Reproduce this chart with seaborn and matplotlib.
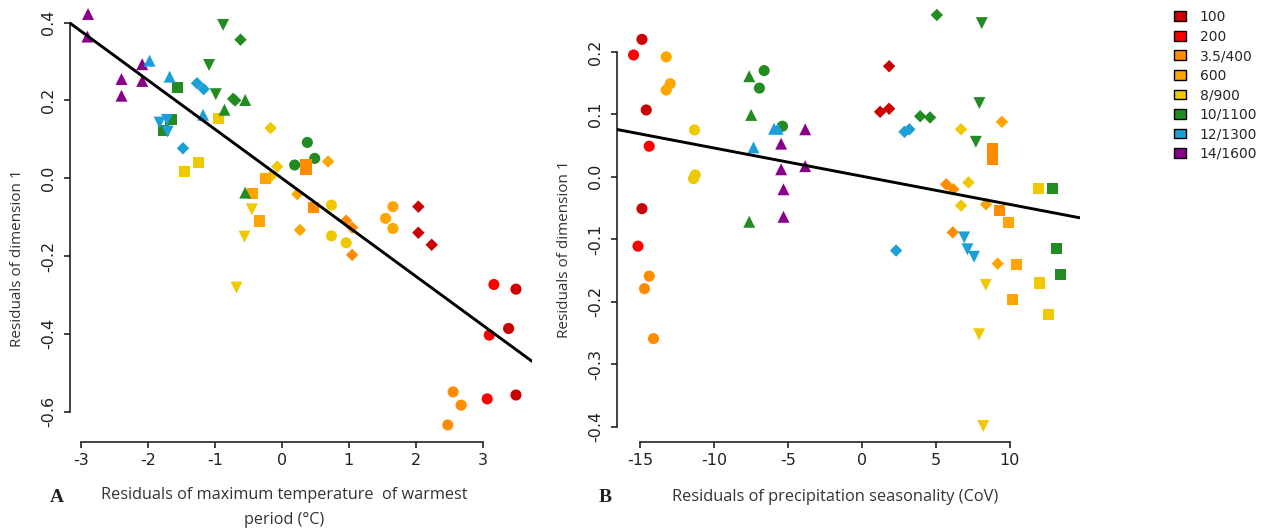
import numpy as np
import pandas as pd
import matplotlib
matplotlib.use("Agg")
import matplotlib.pyplot as plt
import seaborn as sns
from matplotlib.patches import Patch

sns.set_theme(style="white")
plt.rcParams['font.family'] = ['DejaVu Sans']

# ---------------- data ----------------
groups = ["100", "200", "3.5/400", "600", "8/900", "10/1100", "12/1300", "14/1600"]
group_colors = ["#CC0000", "#FF0000", "#FF8C00", "#FFA500", "#F0C800", "#228B22", "#1A9FD6", "#8B008B"]

# Panel A: residuals of max temperature of warmest period vs residuals of dimension 1
a_x = [-2.90, -2.91, -2.40, -2.40, -2.09, -2.09,
       -1.98, -1.68, -1.18, -1.27, -1.17, -1.48, -1.83, -1.72, -1.71,
       -0.88, -1.09, -0.99, -0.62, -0.73, -0.70, -1.56, -1.66, -1.77, -0.55, -0.86, -0.55, 0.38, 0.49, 0.19,
       -0.95, -1.25, -1.46, -0.17, -0.07, -0.17, -0.45, -0.56, -0.68, 0.74, 0.74, 0.96,
       0.36, 0.36, 0.47, -0.25, -0.44, -0.34,
       0.69, 0.23, 0.27, 0.96, 1.05, 1.05,
       1.66, 1.55, 1.66, 2.56, 2.68, 2.48,
       2.04, 2.04, 2.24, 3.50, 3.39, 3.50,
       3.17, 3.10, 3.07]
a_y = [0.422, 0.364, 0.255, 0.212, 0.293, 0.250,
       0.302, 0.261, 0.163, 0.244, 0.229, 0.077, 0.143, 0.150, 0.120,
       0.394, 0.291, 0.216, 0.356, 0.204, 0.200, 0.233, 0.150, 0.122, 0.201, 0.176, -0.037, 0.092, 0.051, 0.034,
       0.154, 0.040, 0.017, 0.129, 0.030, 0.004, -0.080, -0.150, -0.281, -0.069, -0.148, -0.166,
       0.036, 0.022, -0.075, 0.000, -0.040, -0.110,
       0.043, -0.041, -0.133, -0.109, -0.127, -0.197,
       -0.073, -0.103, -0.129, -0.549, -0.583, -0.634,
       -0.073, -0.140, -0.171, -0.285, -0.386, -0.557,
       -0.273, -0.403, -0.567]
a_grp = (["14/1600"] * 6 + ["12/1300"] * 9 + ["10/1100"] * 15 + ["8/900"] * 12
         + ["3.5/400"] * 3 + ["600"] * 3 + ["600"] * 3 + ["3.5/400"] * 3
         + ["600"] * 3 + ["3.5/400"] * 3 + ["100"] * 6 + ["200"] * 3)
a_shp = (["tri_up"] * 6
         + ["tri_up"] * 3 + ["diamond"] * 3 + ["tri_down"] * 3
         + ["tri_down"] * 3 + ["diamond"] * 3 + ["square"] * 3 + ["tri_up"] * 3 + ["circle"] * 3
         + ["square"] * 3 + ["diamond"] * 3 + ["tri_down"] * 3 + ["circle"] * 3
         + ["square"] * 6 + ["diamond"] * 6 + ["circle"] * 6
         + ["diamond"] * 3 + ["circle"] * 3 + ["circle"] * 3)

# Panel B: residuals of precipitation seasonality vs residuals of dimension 1
b_x = [-14.89, -14.60, -14.89, 1.84, 1.23, 1.84,
       -15.46, -15.16, -14.40,
       -13.25, -13.25, -12.98, -14.40, -14.72, -14.11,
       9.47, 9.19, 8.40, 5.70, 6.19, 6.15,
       8.86, 8.86, 9.30, 9.91, 10.48, 10.21,
       -11.33, -11.29, -11.40, 6.71, 7.21, 6.71, 11.94, 12.01, 12.62, 8.38, 7.93, 8.21,
       -7.63, -7.50, -7.63, -6.62, -6.94, -5.38, 5.07, 3.94, 4.61, 8.11, 7.95, 7.71, 12.89, 13.19, 13.46,
       -5.95, -5.70, -7.34, 2.88, 3.21, 2.31, 6.92, 7.14, 7.59,
       -3.84, -5.47, -5.47, -3.84, -5.31, -5.31]
b_y = [0.220, 0.107, -0.051, 0.177, 0.104, 0.109,
       0.195, -0.111, 0.049,
       0.192, 0.139, 0.149, -0.159, -0.179, -0.259,
       0.088, -0.139, -0.044, -0.012, -0.020, -0.089,
       0.046, 0.027, -0.054, -0.073, -0.141, -0.197,
       0.075, 0.003, -0.003, 0.076, -0.009, -0.046, -0.019, -0.170, -0.220, -0.173, -0.252, -0.399,
       0.161, 0.099, -0.072, 0.170, 0.142, 0.081, 0.259, 0.097, 0.095, 0.246, 0.118, 0.056, -0.019, -0.115, -0.156,
       0.077, 0.077, 0.047, 0.072, 0.076, -0.118, -0.097, -0.116, -0.128,
       0.076, 0.053, 0.012, 0.017, -0.020, -0.064]
b_grp = (["100"] * 6 + ["200"] * 3
         + ["600"] * 3 + ["3.5/400"] * 3
         + ["600"] * 3 + ["3.5/400"] * 3
         + ["3.5/400"] * 3 + ["600"] * 3
         + ["8/900"] * 12 + ["10/1100"] * 15 + ["12/1300"] * 9 + ["14/1600"] * 6)
b_shp = (["circle"] * 3 + ["diamond"] * 3 + ["circle"] * 3
         + ["circle"] * 6 + ["diamond"] * 6 + ["square"] * 6
         + ["circle"] * 3 + ["diamond"] * 3 + ["square"] * 3 + ["tri_down"] * 3
         + ["tri_up"] * 3 + ["circle"] * 3 + ["diamond"] * 3 + ["tri_down"] * 3 + ["square"] * 3
         + ["tri_up"] * 3 + ["diamond"] * 3 + ["tri_down"] * 3
         + ["tri_up"] * 6)

dfA = pd.DataFrame({"x": a_x, "y": a_y, "grp": a_grp, "shp": a_shp})
dfB = pd.DataFrame({"x": b_x, "y": b_y, "grp": b_grp, "shp": b_shp})

palette = dict(zip(groups, group_colors))
markers = {"circle": "o", "square": "s", "diamond": "D", "tri_up": "^", "tri_down": "v"}
msizes = {"circle": 64, "square": 64, "diamond": 40, "tri_up": 74, "tri_down": 74}

# ---------------- figure ----------------
fig = plt.figure(figsize=(12.7, 5.31), dpi=100)
axA = fig.add_axes([70 / 1270, 89.3 / 531, 462 / 1270, 441.7 / 531])
axB = fig.add_axes([617 / 1270, 89.3 / 531, 463 / 1270, 441.7 / 531])


def draw(ax, df, xlim, ylim, xticks, yticks, yfmt):
    ax.set_xlim(*xlim)
    ax.set_ylim(*ylim)
    for shp, sub in df.groupby("shp"):
        sns.scatterplot(data=sub, x="x", y="y", hue="grp", palette=palette,
                        marker=markers[shp], s=msizes[shp], linewidth=0,
                        legend=False, ax=ax, clip_on=False, zorder=3)
    sns.regplot(data=df, x="x", y="y", scatter=False, ci=None, truncate=False,
                color="black", line_kws={"linewidth": 2.1, "zorder": 4}, ax=ax)
    ax.set_xlim(*xlim)
    ax.set_ylim(*ylim)
    ax.set_xlabel("")
    ax.set_ylabel("")
    for s in ["top", "right"]:
        ax.spines[s].set_visible(False)
    for s in ["left", "bottom"]:
        ax.spines[s].set_color("#222222")
        ax.spines[s].set_linewidth(1.2)
    ax.set_xticks(xticks)
    ax.set_yticks(yticks)
    ax.spines["bottom"].set_bounds(xticks[0], xticks[-1])
    ax.spines["left"].set_bounds(yticks[0], yticks[-1])
    ax.set_xticklabels([str(t) for t in xticks])
    ax.set_yticklabels([yfmt.format(t) for t in yticks], rotation=90, va="center")
    ax.tick_params(axis="both", direction="out", length=4, width=1.2, color="#222222",
                   labelsize=11.5, labelcolor="#222222", bottom=True, left=True)
    ax.tick_params(axis="x", pad=4)
    ax.tick_params(axis="y", pad=6)
    ax.set_facecolor("none")


draw(axA, dfA, (-3.17, 3.74), (-0.677, 0.458), [-3, -2, -1, 0, 1, 2, 3],
     [-0.6, -0.4, -0.2, 0.0, 0.2, 0.4], "{:.1f}")
draw(axB, dfB, (-16.58, 14.76), (-0.424, 0.283), [-15, -10, -5, 0, 5, 10],
     [-0.4, -0.3, -0.2, -0.1, 0.0, 0.1, 0.2], "{:.1f}")

lab_font = ['Open Sans', 'DejaVu Sans']
fig.text(18 / 1270, 1 - 258 / 531, "Residuals of dimension 1", rotation=90,
         ha="center", va="center", fontsize=11, family=lab_font, color="#333333")
fig.text(565 / 1270, 1 - 249 / 531, "Residuals of dimension 1", rotation=90,
         ha="center", va="center", fontsize=11, family=lab_font, color="#333333")
fig.text(284 / 1270, 1 - 495 / 531, "Residuals of maximum temperature  of warmest",
         ha="center", va="center", fontsize=11.7, family=lab_font, color="#333333")
fig.text(284 / 1270, 1 - 520 / 531, "period (°C)",
         ha="center", va="center", fontsize=11.7, family=lab_font, color="#333333")
fig.text(835 / 1270, 1 - 497 / 531, "Residuals of precipitation seasonality (CoV)",
         ha="center", va="center", fontsize=11.8, family=lab_font, color="#333333")
fig.text(57 / 1270, 1 - 498 / 531, "A", ha="center", va="center", fontsize=14,
         fontweight="bold", family=["Liberation Serif", "DejaVu Serif"], color="#222222")
fig.text(605 / 1270, 1 - 497 / 531, "B", ha="center", va="center", fontsize=14,
         fontweight="bold", family=["Liberation Serif", "DejaVu Serif"], color="#222222")

handles = [Patch(facecolor=c, edgecolor="black", linewidth=1.0) for c in group_colors]
fig.legend(handles, groups, loc="upper left", bbox_to_anchor=(1174 / 1270, 1 - 10 / 531),
           frameon=False, fontsize=10, handlelength=0.85, handleheight=0.7,
           handletextpad=1.0, labelspacing=0.4, borderpad=0, borderaxespad=0)

fig.savefig("out.png", dpi=100)
